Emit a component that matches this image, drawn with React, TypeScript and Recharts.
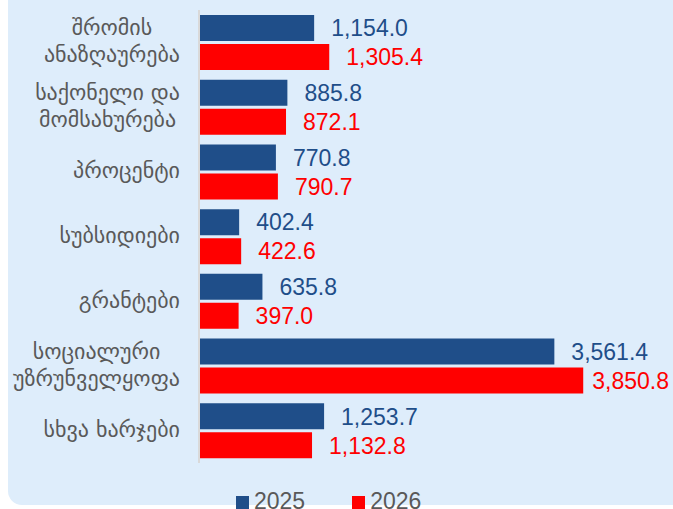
import * as React from "react";
import { BarChart, Bar, XAxis, YAxis, LabelList, Legend } from "recharts";

// კატეგორიები (ხაზის გადატანა \n-ით)
const categories = [
  "შრომის\nანაზღაურება",
  "საქონელი და\nმომსახურება",
  "პროცენტი",
  "სუბსიდიები",
  "გრანტები",
  "სოციალური\nუზრუნველყოფა",
  "სხვა ხარჯები",
];
const values2025 = [1154.0, 885.8, 770.8, 402.4, 635.8, 3561.4, 1253.7];
const values2026 = [1305.4, 872.1, 790.7, 422.6, 397.0, 3850.8, 1132.8];
const seriesNames = ["2025", "2026"];

const BLUE = "#1f4e89";
const RED = "#ff0000";
const GREY = "#595959";
const TICK_SIZE = 22;
const TICK_FONT = `${TICK_SIZE}px "DejaVu Sans"`;
const CHART_W = 673;

const data = categories.map((name, i) => ({
  name,
  v2025: values2025[i],
  v2026: values2026[i],
}));

const fmt = (v: any) =>
  Number(v).toLocaleString("en-US", { minimumFractionDigits: 1, maximumFractionDigits: 1 });

let ctx: CanvasRenderingContext2D | null = null;
const measure = (s: string, font: string) => {
  if (!ctx) ctx = document.createElement("canvas").getContext("2d");
  if (!ctx) return s.length * 11;
  ctx.font = font;
  return ctx.measureText(s).width;
};

// ტექსტის ბლოკი მარჯვნივ, ხაზები ცენტრში
const CategoryTick = (props: any) => {
  const { x, y, payload } = props;
  const lines: string[] = String(payload.value).split("\n");
  const w = Math.max(...lines.map((l) => measure(l, TICK_FONT)));
  const cx = x - 11 - w / 2;
  const lh = 27;
  const y0 = y - ((lines.length - 1) * lh) / 2;
  return (
    <g>
      {lines.map((l, i) => (
        <text
          key={i}
          x={cx}
          y={y0 + i * lh}
          dy="0.3em"
          textAnchor="middle"
          fill={GREY}
          fontSize={TICK_SIZE}
          fontFamily="DejaVu Sans"
        >
          {l}
        </text>
      ))}
    </g>
  );
};

// მნიშვნელობის წარწერა ზოლის მარჯვნივ (კიდეს არ სცდება)
const makeValueLabel = (color: string) => (props: any) => {
  const { x, y, width, height, value } = props;
  const s = fmt(value);
  const tw = measure(s, '23px "Liberation Sans"');
  const lx = Math.min(x + width + 17, CHART_W - 4 - tw);
  return (
    <text
      x={lx}
      y={y + height / 2}
      dy="0.36em"
      fill={color}
      fontSize={23}
      fontFamily="Liberation Sans"
    >
      {s}
    </text>
  );
};

const LegendContent = () => (
  <div
    style={{
      display: "flex",
      fontFamily: "Liberation Sans",
      fontSize: 23,
      lineHeight: "23px",
      color: GREY,
    }}
  >
    {seriesNames.map((n, i) => (
      <div key={n} style={{ display: "flex", alignItems: "flex-start", marginRight: 47 }}>
        <span
          style={{
            display: "inline-block",
            width: 13,
            height: 13,
            marginTop: 6,
            background: i === 0 ? BLUE : RED,
            marginRight: 5,
          }}
        />
        {n}
      </div>
    ))}
  </div>
);

export default function App() {
  return (
    <div
      style={{
        position: "fixed",
        left: 0,
        top: 0,
        width: 673,
        height: 509,
        overflow: "hidden",
        background: "#ffffff",
      }}
    >
      <div
        style={{
          position: "absolute",
          left: 8,
          top: -20,
          width: 700,
          height: 525,
          background: "#deedfb",
          borderRadius: 14,
        }}
      />
      <div style={{ position: "absolute", left: 0, top: 0 }}>
        <BarChart
          width={CHART_W}
          height={509}
          data={data}
          layout="vertical"
          margin={{ top: 10, right: 25, bottom: 46, left: 0 }}
          barGap={3}
          barSize={26}
        >
          <XAxis type="number" domain={[0, 4500]} hide />
          <YAxis
            type="category"
            dataKey="name"
            width={199}
            axisLine={{ stroke: "#d9d9d9", strokeWidth: 2 }}
            tickLine={false}
            tick={<CategoryTick />}
            interval={0}
          />
          <Legend
            verticalAlign="middle"
            align="center"
            layout="horizontal"
            content={<LegendContent />}
            wrapperStyle={{ top: 490, left: 236, width: 300, height: 23 }}
          />
          <Bar dataKey="v2025" name={seriesNames[0]} fill={BLUE} isAnimationActive={false}>
            <LabelList dataKey="v2025" content={makeValueLabel(BLUE)} />
          </Bar>
          <Bar dataKey="v2026" name={seriesNames[1]} fill={RED} isAnimationActive={false}>
            <LabelList dataKey="v2026" content={makeValueLabel(RED)} />
          </Bar>
        </BarChart>
      </div>
    </div>
  );
}
